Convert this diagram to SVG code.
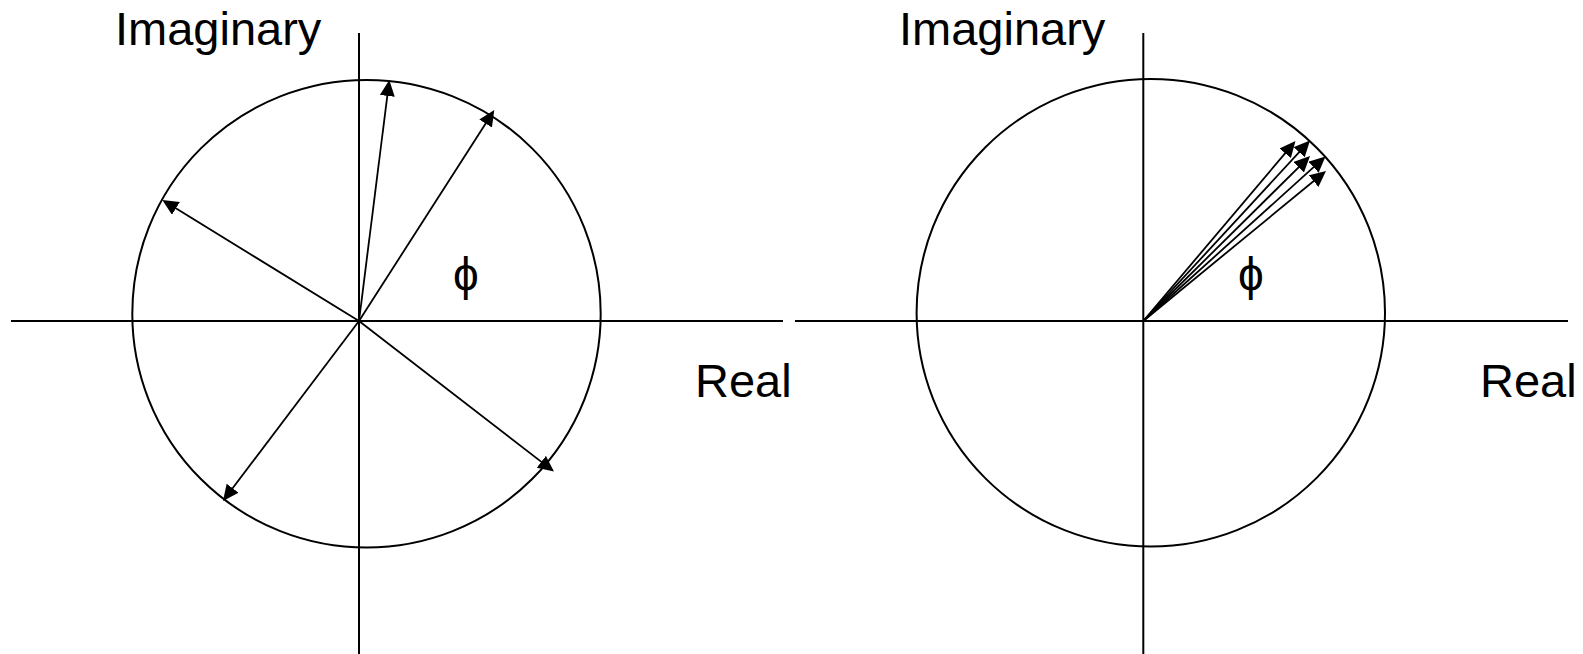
<svg xmlns="http://www.w3.org/2000/svg" width="1583" height="654" viewBox="0 0 1583 654">
<style>
.ax{stroke:#000;stroke-width:2;fill:none}
.circ{stroke:#000;stroke-width:2;fill:none}
.vec{stroke:#000;stroke-width:1.8;fill:none;marker-end:url(#ah)}
.lbl{font-family:"Liberation Sans",Arial,sans-serif;font-size:47px;fill:#000}
.phi{font-family:"Liberation Sans",Arial,"DejaVu Sans",sans-serif;font-size:46px;fill:#000}
</style>
<defs>
<marker id="ah" markerUnits="userSpaceOnUse" markerWidth="17" markerHeight="16" refX="12" refY="7.5" orient="auto">
<path d="M0,0 L16,7.5 L0,15 z" fill="#000"/>
</marker>
</defs>
<rect width="1583" height="654" fill="#fff"/>
<g id="left-plane">
<g id="left-axes">
<line class="ax" x1="11" y1="321" x2="783" y2="321"/>
<line class="ax" x1="359" y1="33" x2="359" y2="654"/>
</g>
<ellipse id="left-circle" class="circ" cx="366.5" cy="313.7" rx="234.2" ry="233.8"/>
<text id="left-imag" class="lbl" x="115" y="45">Imaginary</text>
<text id="left-real" class="lbl" x="695" y="397">Real</text>
<text id="left-phi" class="phi" x="466" y="290" text-anchor="middle">ϕ</text>
</g>
<g id="right-plane">
<g id="right-axes">
<line class="ax" x1="795" y1="321" x2="1568" y2="321"/>
<line class="ax" x1="1143.3" y1="33" x2="1143.3" y2="654"/>
</g>
<ellipse id="right-circle" class="circ" cx="1150.8" cy="312.8" rx="234.2" ry="233.8"/>
<text id="right-imag" class="lbl" x="899" y="45">Imaginary</text>
<text id="right-real" class="lbl" x="1480" y="397">Real</text>
<text id="right-phi" class="phi" x="1251" y="290" text-anchor="middle">ϕ</text>
</g>
<g id="connectors">
<line class="vec" x1="359" y1="321" x2="388.8" y2="84.0"/>
<line class="vec" x1="359" y1="321" x2="492.1" y2="113.4"/>
<line class="vec" x1="359" y1="321" x2="165.7" y2="202.1"/>
<line class="vec" x1="359" y1="321" x2="550.8" y2="469.1"/>
<line class="vec" x1="359" y1="321" x2="225.4" y2="497.8"/>
<line class="vec" x1="1143.3" y1="321" x2="1292.9" y2="144.1"/>
<line class="vec" x1="1143.3" y1="321" x2="1307.3" y2="143.4"/>
<line class="vec" x1="1143.3" y1="321" x2="1307.2" y2="158.8"/>
<line class="vec" x1="1143.3" y1="321" x2="1322.5" y2="159.2"/>
<line class="vec" x1="1143.3" y1="321" x2="1322.9" y2="173.5"/>
</g>
</svg>
